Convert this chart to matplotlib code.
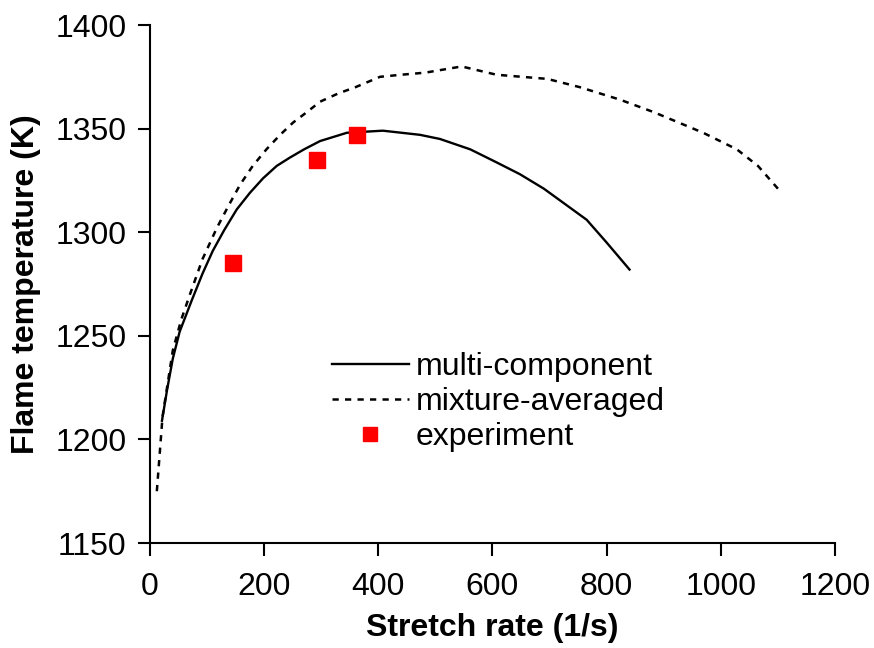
import matplotlib
matplotlib.use("Agg")
import matplotlib.pyplot as plt

plt.rcParams['font.family'] = ['Liberation Sans', 'DejaVu Sans']

# Multi-component transport model
mc_rate = [21, 30, 40, 52, 73, 92, 110, 130, 152, 175, 198, 222, 245, 270, 298, 345, 408, 473, 508, 561, 605, 648, 690, 730, 765, 800, 840]
mc_temp = [1209, 1224, 1239, 1252, 1267, 1280, 1291, 1301, 1311, 1319, 1326, 1332, 1336, 1340, 1344, 1348, 1349, 1347, 1345, 1340, 1334, 1328, 1321, 1313, 1306, 1295, 1282]

# Mixture-averaged transport model
ma_rate = [12, 22, 40, 55, 70, 92, 117, 138, 158, 180, 204, 228, 251, 275, 298, 330, 360, 403, 440, 482, 546, 607, 696, 753, 823, 882, 969, 1028, 1065, 1100]
ma_temp = [1175, 1211, 1243, 1258, 1270, 1287, 1302, 1313, 1323, 1332, 1340, 1347, 1353, 1358, 1363, 1367, 1370, 1375, 1376, 1377, 1380, 1376, 1374, 1370, 1364, 1358, 1348, 1340, 1332, 1321]

# Measurements
exp_rate = [145, 293, 363]
exp_temp = [1285, 1335, 1347]

x_ticks = [0, 200, 400, 600, 800, 1000, 1200]
y_ticks = [1150, 1200, 1250, 1300, 1350, 1400]

FS = 23

fig = plt.figure(figsize=(8.74, 6.48), dpi=100)
ax = fig.add_axes([0.1716, 0.162, 0.7838, 0.7994])

ax.plot(mc_rate, mc_temp, color='black', lw=1.7, label='multi-component')
ax.plot(ma_rate, ma_temp, color='black', lw=1.8, linestyle=(0, (2.5, 2.5)), label='mixture-averaged')
ax.plot(exp_rate, exp_temp, linestyle='none', marker='s', markersize=11,
        color='#ff0000', markeredgecolor='#ff0000', label='experiment')

ax.set_xlim(0, 1200)
ax.set_ylim(1150, 1400)
ax.set_xticks(x_ticks)
ax.set_yticks(y_ticks)

for side in ('top', 'right'):
    ax.spines[side].set_visible(False)
for side in ('left', 'bottom'):
    ax.spines[side].set_linewidth(1.5)

ax.tick_params(axis='both', direction='out', length=9, width=1.5, labelsize=FS)
ax.tick_params(axis='y', pad=8)
ax.tick_params(axis='x', pad=12)

ax.set_xlabel('Stretch rate (1/s)', fontsize=FS, fontweight='bold', labelpad=8)
ax.set_ylabel('Flame temperature (K)', fontsize=FS, fontweight='bold', labelpad=10)

ax.legend(loc='center left', bbox_to_anchor=(0.2657, 0.272), frameon=False, fontsize=FS,
          handlelength=2.4, handletextpad=0.22, labelspacing=0.15,
          borderpad=0, borderaxespad=0, markerscale=0.9)

fig.savefig('out.png', dpi=100)
